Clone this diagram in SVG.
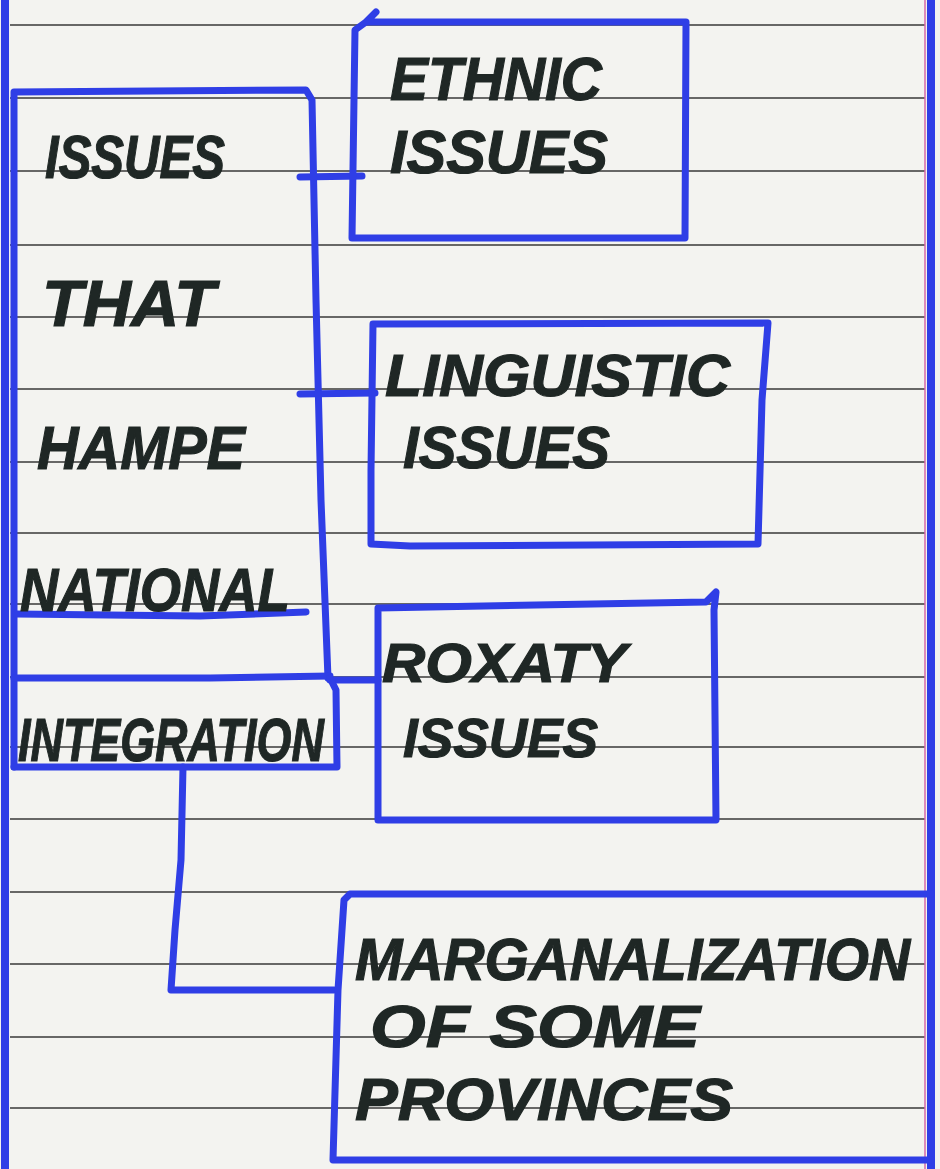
<svg xmlns="http://www.w3.org/2000/svg" width="940" height="1169" viewBox="0 0 940 1169">
<defs>
<style>
.paper{fill:#f3f3f0}
.rule{stroke:#4d4d4d;stroke-width:2;fill:none;opacity:0.85}
.margin{stroke:#d46aa8;stroke-width:1.5;fill:none}
.pen{stroke:#2f3ee6;stroke-width:7;fill:none;stroke-linecap:round;stroke-linejoin:round}
.edge{stroke:#2f3ee6;stroke-width:8;fill:none}
.t{font-family:"Liberation Sans",Arial,sans-serif;font-weight:bold;font-style:italic;fill:#1f2725;stroke:#1f2725;stroke-width:1.2}
</style>
</defs>
<rect class="paper" x="0" y="0" width="940" height="1169"/>
<g id="paper-rules">
<path class="rule" d="M10 25H925M10 98H925M10 171H925M10 245H925M10 317H925M10 389H925M10 462H925M10 533H925M10 604H925M10 677H925M10 747H925M10 819H925M10 892H925M10 964H925M10 1037H925M10 1108H925"/>
<path class="margin" d="M925 0V1169"/>
<path class="edge" d="M931 0V1169"/>
<path class="edge" d="M5 0V1169"/>
</g>
<g id="connectors">
<path class="pen" d="M300 177L362 176"/>
<path class="pen" d="M300 394L375 393"/>
<path class="pen" d="M330 680L378 680"/>
<path class="pen" d="M183 767L181 860L175 930L171 990L334 990"/>
</g>
<g id="node-main">
<path class="pen" d="M14 767L14 92L306 90L312 100L316 300L321 500L328 678"/>
<path class="pen" d="M16 614L200 616L306 612"/>
<path class="pen" d="M14 678L210 678L330 676"/>
<path class="pen" d="M330 678L336 690L337 767L14 767"/>
<text class="t" x="45" y="178" font-size="62" textLength="180" lengthAdjust="spacingAndGlyphs">ISSUES</text>
<text class="t" x="42" y="326" font-size="64" textLength="173" lengthAdjust="spacingAndGlyphs">THAT</text>
<text class="t" x="37" y="469" font-size="62" textLength="208" lengthAdjust="spacingAndGlyphs">HAMPE</text>
<text class="t" x="20" y="611" font-size="62" textLength="270" lengthAdjust="spacingAndGlyphs">NATIONAL</text>
<text class="t" transform="matrix(0.724 0 0 1 18 761)" x="0" y="0" font-size="62">INTEGRATION</text>
</g>
<g id="node-ethnic">
<path class="pen" d="M376 12L366 22L686 22L685 238L352 238L355 30L366 22"/>
<text class="t" x="390" y="100" font-size="62" textLength="212" lengthAdjust="spacingAndGlyphs">ETHNIC</text>
<text class="t" x="390" y="173" font-size="62" textLength="218" lengthAdjust="spacingAndGlyphs">ISSUES</text>
</g>
<g id="node-linguistic">
<path class="pen" d="M373 324L768 323L762 400L758 544L410 546L371 544L371 470L373 324"/>
<text class="t" x="385" y="396" font-size="60" textLength="345" lengthAdjust="spacingAndGlyphs">LINGUISTIC</text>
<text class="t" x="403" y="468" font-size="60" textLength="207" lengthAdjust="spacingAndGlyphs">ISSUES</text>
</g>
<g id="node-royalty">
<path class="pen" d="M378 608L706 602L716 592L714 610L716 820L378 820L378 608"/>
<text class="t" x="382" y="682" font-size="56" textLength="245" lengthAdjust="spacingAndGlyphs">ROXATY</text>
<text class="t" x="403" y="757" font-size="56" textLength="195" lengthAdjust="spacingAndGlyphs">ISSUES</text>
</g>
<g id="node-marginalization">
<path class="pen" d="M931 894L350 894L344 900L338 990L333 1160L931 1160"/>
<text class="t" x="355" y="980" font-size="60" textLength="555" lengthAdjust="spacingAndGlyphs">MARGANALIZATION</text>
<text class="t" x="370" y="1047" font-size="60" textLength="330" lengthAdjust="spacingAndGlyphs">OF SOME</text>
<text class="t" x="355" y="1120" font-size="60" textLength="378" lengthAdjust="spacingAndGlyphs">PROVINCES</text>
</g>
</svg>
